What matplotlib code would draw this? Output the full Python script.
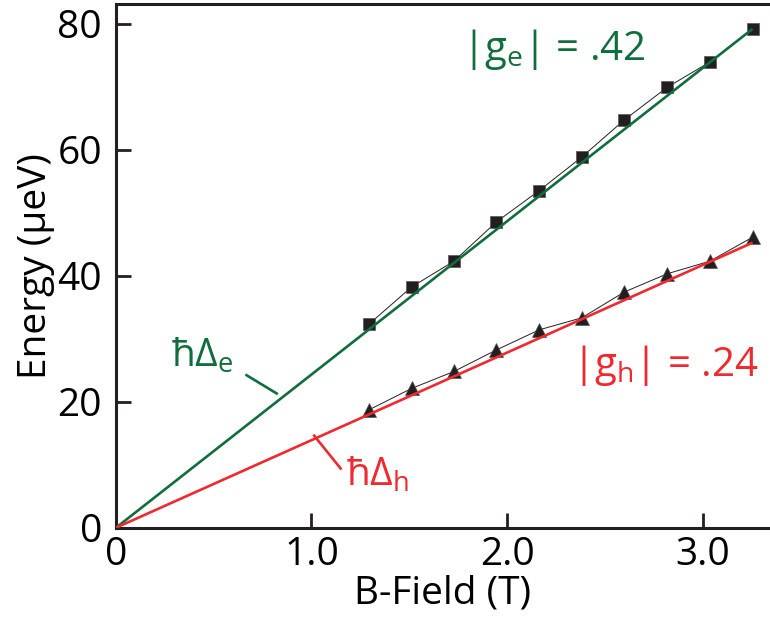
import numpy as np
import matplotlib
matplotlib.use('Agg')
import matplotlib.pyplot as plt

plt.rcParams['font.family'] = ['Open Sans', 'DejaVu Sans']
plt.rcParams['mathtext.fontset'] = 'custom'
plt.rcParams['mathtext.rm'] = 'Open Sans'

# data
b_field = [1.294, 1.512, 1.729, 1.945, 2.165, 2.382, 2.600, 2.820, 3.038, 3.256]
e_split = [32.3, 38.2, 42.3, 48.5, 53.5, 58.8, 64.7, 69.9, 73.9, 79.1]
h_split = [18.7, 22.1, 24.8, 28.2, 31.4, 33.3, 37.4, 40.3, 42.3, 46.1]
g_e = 0.42
g_h = 0.24
mu_b = 57.88  # ueV/T

green = '#0f6e3c'
red = '#ee2a2f'
black = '#231f20'

fig = plt.figure(figsize=(7.7, 6.21), dpi=100)
ax = fig.add_axes([0.1506, 0.1502, 0.8494, 0.8434])

#fit lines through origin
bfit = np.array([0, b_field[-1]])

ax.plot(b_field, e_split, c=black, lw=0.7, marker='s', ms=8.5, mfc=black, mec='#555555', mew=0.5, zorder=2)
ax.plot(b_field, h_split, c=black, lw=0.7, marker='^', ms=10, mfc=black, mec='#555555', mew=0.5, zorder=2)
ax.plot(bfit, g_e*mu_b*bfit, c=green, lw=1.9, zorder=3, solid_capstyle='butt')
ax.plot(bfit, g_h*mu_b*bfit, c=red, lw=1.9, zorder=3, solid_capstyle='butt')

ax.set_xlim(0, 3.345)
ax.set_ylim(0, 83.1)
ax.set_xticks([0, 1, 2, 3])
ax.set_xticklabels(['0', '1.0', '2.0', '3.0'])
ax.set_yticks([0, 20, 40, 60, 80])

for s in ['left', 'bottom', 'top']:
    ax.spines[s].set_linewidth(2.2)
    ax.spines[s].set_color(black)
ax.spines['right'].set_visible(False)

ax.tick_params(axis='both', direction='in', length=11, width=2, color=black, labelsize=28, labelcolor='black')
ax.tick_params(axis='x', pad=6)
ax.tick_params(axis='y', pad=10)
ax.tick_params(top=False, right=False)

ax.set_xlabel('B-Field (T)', fontsize=28, labelpad=0)
ax.set_ylabel('Energy (\u00b5eV)', fontsize=28)
ax.yaxis.set_label_coords(-0.093, 0.5)

# labels
ax.text(1.77, 75.8, r'|g$_\mathregular{e}$| = .42', color=green, fontsize=29, va='center', ha='left')
ax.text(2.33, 25.7, r'|g$_\mathregular{h}$| = .24', color=red, fontsize=29, va='center', ha='left')
ax.text(0.28, 27.2, '\u0127\u0394$_\\mathregular{e}$', color=green, fontsize=28, va='center', ha='left')
ax.text(1.175, 8.3, '\u0127\u0394$_\\mathregular{h}$', color=red, fontsize=28, va='center', ha='left')
ax.plot([0.668, 0.822], [24.2, 21.3], c=green, lw=1.9)
ax.plot([1.014, 1.149], [14.6, 9.4], c=red, lw=1.9)

fig.savefig('out.png', dpi=100)
